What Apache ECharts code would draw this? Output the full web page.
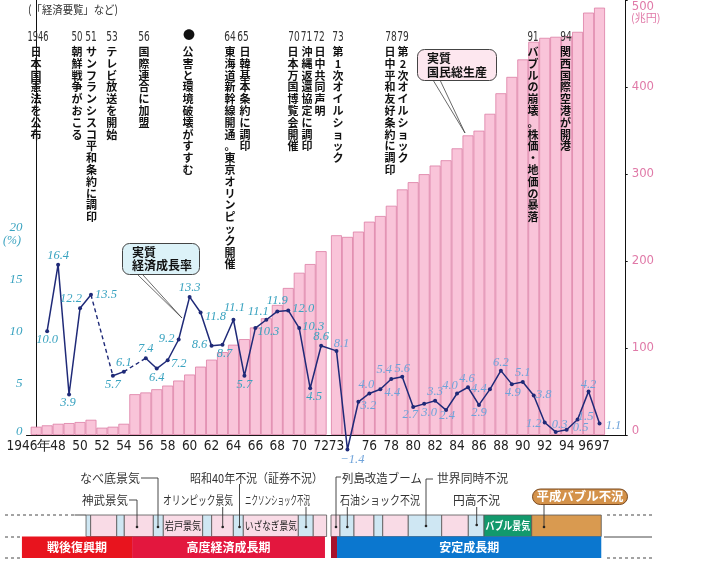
<!DOCTYPE html>
<html><head><meta charset="utf-8">
<script src="https://cdn.jsdelivr.net/npm/echarts@6/dist/echarts.min.js"></script>
<style>html,body{margin:0;padding:0;background:#fff}#c{width:703px;height:574px}</style>
</head><body><div id="c"></div>
<script>
// ---------- DATA ----------
const years = [1946,1947,1948,1949,1950,1951,1952,1953,1954,1955,1956,1957,1958,1959,1960,1961,1962,1963,1964,1965,1966,1967,1968,1969,1970,1971,1972,
  1973,1974,1975,1976,1977,1978,1979,1980,1981,1982,1983,1984,1985,1986,1987,1988,1989,1990,1991,1992,1993,1994,1995,1996,1997];
// 実質国民総生産 (兆円)
const gnp = [9.5,11.1,12.9,13.7,14.9,17.5,8.4,9.5,12.9,46.9,48.9,52.6,56.8,62.6,69.5,78.6,86.6,95.3,103.8,110.2,123.6,134.2,149.5,169,186.5,196.5,211.3,
  229.6,227.7,233.8,245.2,251.7,263.5,282.3,290.6,299.8,309.7,315.8,329.5,344.4,349.8,369.2,392.8,411.6,431.7,452,456.5,457.7,458.5,463.4,485.5,491.2];
// 実質経済成長率 (%)
const growth = [null,10.0,16.4,3.9,12.2,13.5,null,5.7,6.1,null,7.4,6.4,7.2,9.2,13.3,11.8,8.6,8.7,11.1,5.7,10.3,11.1,11.9,12.0,10.3,4.5,8.6,
  8.1,-1.4,3.2,4.0,4.4,5.4,5.6,2.7,3.0,3.3,2.4,4.0,4.6,2.9,4.4,6.2,4.9,5.1,3.8,1.2,0.3,0.5,1.5,4.2,1.1];
const xTickYears = [1946,1948,1950,1952,1954,1956,1958,1960,1962,1964,1966,1968,1970,1972,1973,1976,1978,1980,1982,1984,1986,1988,1990,1992,1994,1996,1997];
const xTickLabels = ['1946年','48','50','52','54','56','58','60','62','64','66','68','70','72','73','76','78','80','82','84','86','88','90','92','94','96','97'];
// 景気循環
const cycleStart = [1951.05,1951.47,1953.85,1954.54,1957.19,1958.10,1961.69,1962.51,1964.49,1965.40,1970.42,1971.78,1973.82,1975.10,1976.92,1977.72,1980.05,1983.10,1985.53,1986.96,1991.31];
const cycleEnd   = [1951.47,1953.85,1954.54,1957.19,1958.10,1961.69,1962.51,1964.49,1965.40,1970.42,1971.78,1973.82,1975.10,1976.92,1977.72,1980.05,1983.10,1985.53,1986.96,1991.31,1997.66];
const cycleKind  = ['r','b','r','b','r','b','r','b','r','b','r','b','r','b','r','b','r','b','r','g','o'];
const cycleText  = ['','','','','','岩戸景気','','','','いざなぎ景気','','','','','','','','','','バブル景気',''];
// 時期区分
const periodStart = [1945.2,1955.25,1973.0,1973.55];
const periodEnd   = [1955.25,1972.85,1973.55,1997.66];
const periodName  = ['戦後復興期','高度経済成長期','','安定成長期'];
const periodKind  = ['p1','p2','p3','p4'];

// ---------- LAYOUT / STYLE ----------
const GAP = 0.4;              // gap between 1972 and 1973 (in bar units)
const X_MIN = -0.883, X_MAX = 53.789;
const PX = 10.96;             // px per bar unit
function xc(y){ return y - 1946 + (y >= 1973 ? GAP : 0); }
function bx(t, side){ return t - 1946 - 0.5 + ((side === 'R' || (side !== 'L' && t > 1973)) ? GAP : 0); }
const labelOffset = {
1947:[0,9],1948:[0,-9],1949:[-1,8],1950:[-9,-10],1951:[15,0],1953:[0,9],1954:[0,-9],1956:[0,-9],1957:[0,9],1958:[11,3],1959:[-12,-1],1960:[0,-9],1961:[15,4],1962:[-12,-1],1963:[2,9],1964:[1,-12],1965:[0,9],1966:[13,4],1967:[-8,-8],1968:[0,-11],1969:[15,-2],1970:[14,-1],1971:[4,8],1972:[0,-9],
1973:[5,-7],1974:[5,10],1975:[10,4],1976:[-3,-9],1977:[12,3],1978:[-7,-9],1979:[0,-8],1980:[-3,8],1981:[5,9],1982:[0,-9],1983:[1,6],1984:[-7,-8],1985:[-1,-9],1986:[0,8],1987:[-11,-1],1988:[0,-8],1989:[1,9],1990:[0,-9],1991:[10,-1],1992:[-11,1],1993:[4,-7],1994:[14,-2],1995:[8,-3],1996:[0,-7],1997:[14,2]};
const cellColor = {r:'#cfe7f3', b:'#f9dbe6', g:'#12996c', o:'#d99a50', p1:'#e8141e', p2:'#e3173e', p3:'#a8122c', p4:'#0b77cf'};
const JP = '"Noto Sans CJK JP","Noto Sans",sans-serif';
const SERIF = '"Liberation Serif","DejaVu Serif",serif';

// text measuring helpers
const mctx = document.createElement('canvas').getContext('2d');
function tw(s,font){ mctx.font = font; return mctx.measureText(s).width; }
function hasFont(name){ return tw('0123456789','20px "'+name+'", monospace') !== tw('0123456789','20px monospace'); }
const narrowName = ['Liberation Sans Narrow','DejaVu Sans Condensed','Roboto Condensed'].find(hasFont);
const NARROW = narrowName ? '"'+narrowName+'","Liberation Sans",sans-serif' : '"Liberation Sans",sans-serif';
const XFS = narrowName ? 13.5 : 12.5;

// ---------- BUILD ----------
const barData = years.map((y,i)=>[xc(y), gnp[i]]);
const lineData = years.map((y,i)=>{
  const v = growth[i];
  if (v === null) return [xc(y), null];
  const off = labelOffset[y] || [0,-9];
  return {value:[xc(y), v], label:{offset:off, color: y < 1973 ? '#3aa3c0' : '#6fa3da'}};
});
const dashedSeries = [];
for (let i=1;i<growth.length-1;i++){
  if (growth[i] === null){
    let a=i-1, b=i+1;
    while (b<growth.length && growth[b]===null) b++;
    if (growth[a]!==null && b<growth.length){
      dashedSeries.push({type:'line', xAxisIndex:0, yAxisIndex:0, symbol:'none', z:3, silent:true,
        lineStyle:{color:'#1f2a78', width:1.4, type:[4,3]},
        data:[[xc(years[a]),growth[a]],[xc(years[b]),growth[b]]]});
    }
  }
}
// cells
const cells = [];
function addCell(s,e,row,kind,text){
  if (s < 1973 && e > 1973){
    cells.push({x0:bx(s,'L'), x1:bx(1973,'L'), row, kind, text:''});
    cells.push({x0:bx(1973,'R'), x1:bx(e,'R'), row, kind, text});
  } else cells.push({x0:bx(s, s>=1973?'R':'L'), x1:bx(e, e>1973?'R':'L'), row, kind, text});
}
cycleStart.forEach((s,i)=>addCell(s,cycleEnd[i],1,cycleKind[i],cycleText[i]));
periodStart.forEach((s,i)=>addCell(s,periodEnd[i],0,periodKind[i],periodName[i]));

// x labels (empty labels at both ends so no real label gets dropped)
const tickPos = [X_MIN].concat(xTickYears.map(xc)).concat([X_MAX]);
const tickText = [''].concat(xTickLabels).concat(['']);
const XF = XFS+'px '+NARROW;
const wFirst = tw(xTickLabels[0], XF), wPair = tw('96', XF);
const padFirst = Math.max(0, wFirst - 2*(51.5-36.2));
const padPair = Math.max(0, wPair - PX + 0.5);
const xRichBase = {fontFamily:NARROW, fontSize:XFS, color:'#222'};
function xLabel(v){
  for (let i=0;i<tickPos.length;i++) if (Math.abs(tickPos[i]-v)<1e-6){
    const t = tickText[i];
    if (t==='') return '';
    if (i===1) return '{f|'+t+'}';
    if (t==='96') return '{l|'+t+'}';
    if (t==='97') return '{r|'+t+'}';
    return '{n|'+t+'}';
  }
  return '';
}

function htext(s,x,y,font,fill,w,align){
  const sx = w ? w/tw(s,font) : 1;
  return {type:'text', x:x, y:y, scaleX:sx, z:100, silent:true,
    style:{text:s, x:0, y:0, font:font, fill:fill, align:align||'left', verticalAlign:'middle'}};
}
function vcol(x,y,s){
  return {type:'text', x:x, y:y, z:100, silent:true,
    style:{text:Array.from(s).join('\n'), font:'bold 11px '+JP, fill:'#111', align:'center', verticalAlign:'top', lineHeight:11.8}};
}
const YR = '14px '+NARROW;
const graphic = [];
graphic.push(htext('(「経済要覧」など)',28,10,'11.5px '+JP,'#333',90));
const yearTags = [[38,'1946',21],[77,'50',11],[91,'51',11.5],[112,'53',11.5],[144,'56',11.5],[230,'64',11.5],[243,'65',11.5],[294,'70',11.5],[306.5,'71',11.5],[319,'72',11.5],[338,'73',11.5],[391,'78',11.5],[403,'79',11.5],[533,'91',11],[566,'94',11.5]];
yearTags.forEach(t=>{ const g = htext(t[1],0,37,YR,'#333',t[2],'left'); g.x = t[0] - t[2]/2; graphic.push(g); });
graphic.push(htext('●',189,35,'12px '+JP,'#111',null,'center'));
const cols = [[36,'日本国憲法を公布'],[77,'朝鮮戦争がおこる'],[91.5,'サンフランシスコ平和条約に調印'],[111.7,'テレビ放送を開始'],[144,'国際連合に加盟'],
  [188,'公害と環境破壊がすすむ'],[230,'東海道新幹線開通。東京オリンピック開催'],[245,'日韓基本条約に調印'],[293,'日本万国博覧会開催'],[307,'沖縄返還協定に調印'],
  [320,'日中共同声明'],[338,'第1次オイルショック'],[390,'日中平和友好条約に調印'],[403,'第2次オイルショック'],[533,'バブルの崩壊。株価・地価の暴落'],[565.5,'関西国際空港が開港']];
cols.forEach(c=>graphic.push(vcol(c[0],46,c[1])));
// axis unit labels
graphic.push(htext('(%)',12,241,'italic 12px '+SERIF,'#3aa3c0',null,'center'));
graphic.push(htext('(兆円)',631,18,'11px '+JP,'#e07aa8',null,'left'));
// callouts
graphic.push({type:'polyline', z:99, silent:true, shape:{points:[[433,80],[465,133],[440,80]]}, style:{stroke:'#444', lineWidth:0.8, fill:null}});
graphic.push({type:'rect', z:100, silent:true, shape:{x:417.5,y:49.5,width:79,height:31,r:7}, style:{fill:'#fde7ef', stroke:'#444', lineWidth:1}});
graphic.push(htext('実質',427,58,'bold 12px '+JP,'#111'));
graphic.push(htext('国民総生産',427,72,'bold 12px '+JP,'#111'));
graphic.push({type:'polyline', z:99, silent:true, shape:{points:[[138,275],[182,318],[143,275]]}, style:{stroke:'#444', lineWidth:0.8, fill:null}});
graphic.push({type:'rect', z:100, silent:true, shape:{x:122.5,y:243.5,width:77,height:31,r:7}, style:{fill:'#dcf2f8', stroke:'#444', lineWidth:1}});
graphic.push(htext('実質',132,252,'bold 12px '+JP,'#111'));
graphic.push(htext('経済成長率',132,265,'bold 12px '+JP,'#111'));
// timeline labels + leaders
const LF = '12px '+JP, LC = '#333';
[['なべ底景気',80,478,60],['神武景気',82,500,46],['オリンピック景気',163,500,70],['昭和40年不況（証券不況）',190,478,133],['ニクソンショック不況',245,500,65],
 ['列島改造ブーム',342,478,80],['石油ショック不況',340,500,80],['世界同時不況',437,478,71],['円高不況',453,500,47]].forEach(a=>graphic.push(htext(a[0],a[1],a[2],LF,LC,a[3])));
const leaders = [[[141,478],[158,478],[158,527]],[[129,500],[137,500],[137,527]],[[222.7,507],[222.7,527]],[[239.5,484],[239.5,527]],[[306,507],[306,527]],
  [[341,477],[336,477],[336,527]],[[347.3,507],[347.3,527]],[[433,479],[426,479],[426,526]],[[476.7,507],[476.7,525]],[[544,504],[544,527]]];
leaders.forEach(p=>{
  graphic.push({type:'polyline', z:100, silent:true, shape:{points:p}, style:{stroke:'#333', lineWidth:0.9, fill:null}});
  const e=p[p.length-1];
  graphic.push({type:'circle', z:100, silent:true, shape:{cx:e[0],cy:e[1],r:1.3}, style:{fill:'#222'}});
});
graphic.push({type:'rect', z:100, silent:true, shape:{x:532.5,y:489,width:95,height:15.5,r:8}, style:{fill:'#d4924a', stroke:'#7a4a20', lineWidth:1}});
graphic.push(htext('平成バブル不況',580,496.8,'bold 12px '+JP,'#fff',87,'center'));
// frame dashed lines of timeline
function ln(x1,y1,x2,y2,dash){ return {type:'line', z:100, silent:true, shape:{x1,y1,x2,y2}, style:{stroke:'#333', lineWidth:0.9, lineDash:dash?[3,3]:null}}; }
graphic.push(ln(5,515,74.5,515,true), ln(74.5,515,86,515,false), ln(5,537,20,537,true), ln(5,558,20,558,true),
  ln(607,515,652,515,true), ln(604,537,652,537,false), ln(607,558,652,558,true));

const axisLabelLeft = {color:'#3aa3c0', fontStyle:'italic', fontFamily:SERIF, fontSize:13};
const axisLabelRight = {color:'#e07aa8', fontFamily:NARROW, fontSize:13};

const option = {
  animation:false,
  backgroundColor:'#fff',
  grid:[{left:26.5, right:77.3, top:-2, bottom:139}, {left:26.5, right:77.3, top:515, height:43}],
  xAxis:[
    {type:'value', gridIndex:0, min:X_MIN, max:X_MAX, splitLine:{show:false}, axisTick:{show:false},
     axisLine:{lineStyle:{color:'#111', width:1}},
     axisLabel:{customValues:tickPos, formatter:xLabel, margin:4, color:'#222', fontFamily:NARROW, fontSize:XFS,
       showMinLabel:true, showMaxLabel:true, hideOverlap:false,
       rich:{n:xRichBase, f:Object.assign({padding:[0,padFirst,0,0]}, xRichBase),
             l:Object.assign({padding:[0,padPair,0,0]}, xRichBase), r:Object.assign({padding:[0,0,0,padPair]}, xRichBase)}}},
    {type:'value', gridIndex:1, min:X_MIN, max:X_MAX, show:false}
  ],
  yAxis:[
    {type:'value', gridIndex:0, min:0, max:41.9, interval:5, position:'left',
     axisLine:{show:true, lineStyle:{color:'#111', width:1}}, axisTick:{show:false}, splitLine:{show:false},
     axisLabel:Object.assign({margin:4, showMaxLabel:false, formatter:v=> v===0 ? '{z|0}' : (v<=20 ? String(v) : ''),
       rich:{z:Object.assign({padding:[0,0,6,0]}, axisLabelLeft)}}, axisLabelLeft)},
    {type:'value', gridIndex:0, min:0, max:500, interval:100, position:'right',
     axisLine:{show:true, lineStyle:{color:'#111', width:1}}, axisTick:{show:true, length:2, lineStyle:{color:'#111'}}, splitLine:{show:false},
     axisLabel:Object.assign({margin:6, showMinLabel:true, showMaxLabel:true, formatter:v=> v===500 ? '{t|500}' : (v===0 ? '{b|0}' : String(v)),
       rich:{t:Object.assign({padding:[14,0,0,0]}, axisLabelRight), b:Object.assign({padding:[0,0,8,0]}, axisLabelRight)}}, axisLabelRight)},
    {type:'value', gridIndex:1, min:0, max:2, show:false}
  ],
  series:[
    {type:'bar', xAxisIndex:0, yAxisIndex:1, data:barData, barWidth:PX, z:1, silent:true,
     itemStyle:{color:'#f9c4d9', borderColor:'#dc7ea4', borderWidth:0.8}},
    {type:'line', xAxisIndex:0, yAxisIndex:0, data:lineData, z:4, clip:false, connectNulls:false, silent:true,
     symbol:'circle', symbolSize:4, itemStyle:{color:'#1f2a78'}, lineStyle:{color:'#1f2a78', width:1.5},
     label:{show:true, position:'inside', fontFamily:SERIF, fontStyle:'italic', fontSize:12.5,
       formatter:p=>{const v=p.value[1]; return (v<0?'−':'')+Math.abs(v).toFixed(1);}}}
  ].concat(dashedSeries).concat([
    {type:'custom', xAxisIndex:1, yAxisIndex:2, silent:true, clip:false, z:2,
     data:cells.map(c=>[c.x0,c.x1,c.row]),
     encode:{x:[0,1], y:2},
     renderItem:(params, api)=>{
       const c = cells[params.dataIndex];
       const p0 = api.coord([c.x0, c.row+1]), p1 = api.coord([c.x1, c.row]);
       const r = {x:p0[0], y:p0[1], width:p1[0]-p0[0], height:p1[1]-p0[1]};
       const children = [{type:'rect', shape:r, style:{fill:cellColor[c.kind], stroke: c.row===1 ? '#555' : null, lineWidth:0.8}}];
       if (c.text){
         const isPeriod = c.row===0;
         const white = isPeriod || c.kind==='g';
         const font = (isPeriod ? 'bold 12px ' : (white ? 'bold 11px ' : '11px ')) + JP;
         const nat = tw(c.text, font);
         const sx = isPeriod ? 1 : Math.min(1, (r.width-3)/nat);
         children.push({type:'text', x:r.x+r.width/2, y:r.y+r.height/2+0.5, scaleX:sx,
           style:{text:c.text, x:0, y:0, align:'center', verticalAlign:'middle', fill: white ? '#fff' : '#222', font:font}});
       }
       return {type:'group', children};
     }}
  ]),
  graphic: graphic
};
const chart = echarts.init(document.getElementById('c'));
chart.setOption(option);
</script>
</body></html>
